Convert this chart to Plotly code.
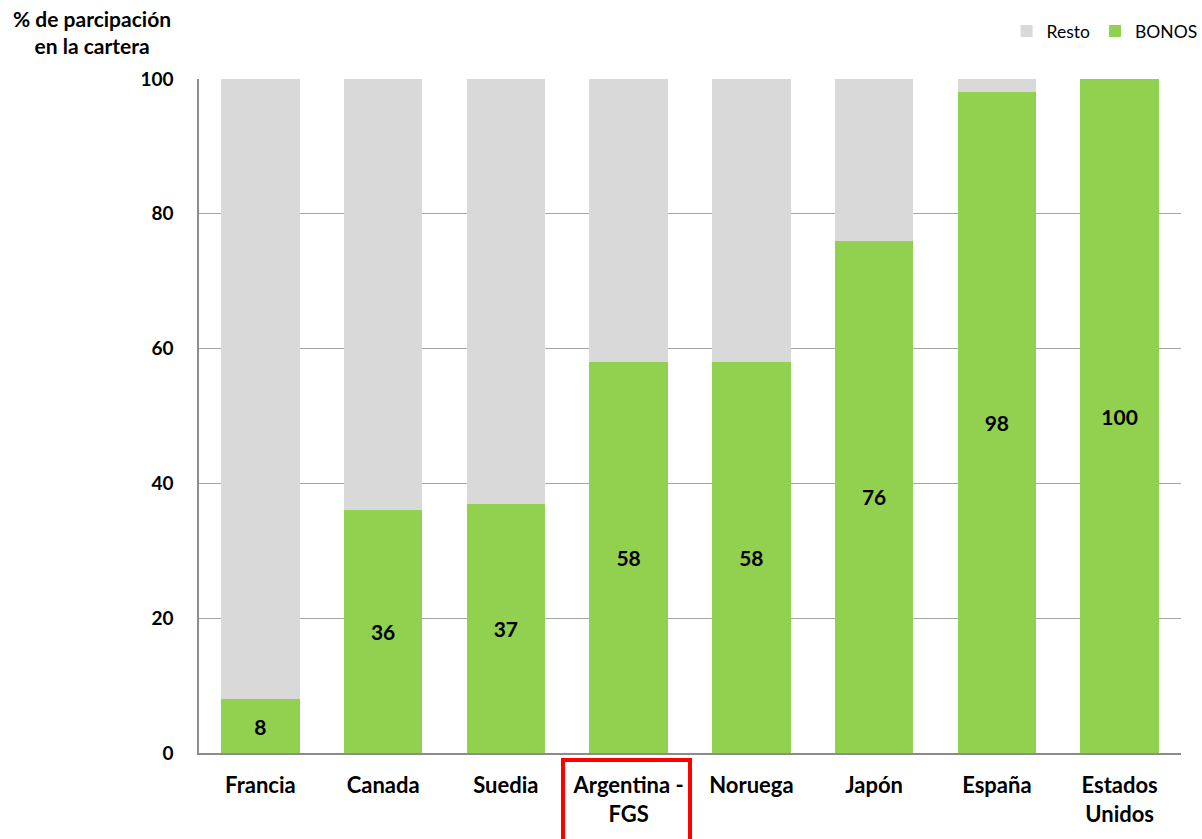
import plotly.graph_objects as go

categories = ["Francia", "Canada", "Suedia", "Argentina -<br>FGS", "Noruega", "Japón", "España", "Estados<br>Unidos"]
bonos = [8, 36, 37, 58, 58, 76, 98, 100]
resto = [100 - b for b in bonos]
y_ticks = [0, 20, 40, 60, 80, 100]

FONT = "Lato, Carlito, Calibri, sans-serif"
GREEN = "#92D050"
GRAY = "#D9D9D9"

fig = go.Figure()
fig.add_trace(go.Bar(
    x=categories, y=bonos, name="BONOS", marker=dict(color=GREEN, line=dict(width=0)),
    text=[str(v) for v in bonos], textposition="inside", insidetextanchor="middle",
    textangle=0, textfont=dict(family=FONT, size=21, color="black", weight="bold"),
    constraintext="none", cliponaxis=False,
))
fig.add_trace(go.Bar(
    x=categories, y=resto, name="Resto", marker=dict(color=GRAY, line=dict(width=0)),
))

fig.update_layout(
    width=1202, height=839,
    barmode="stack", bargap=0.36,
    plot_bgcolor="white", paper_bgcolor="white",
    margin=dict(l=199, r=21, t=79, b=86, autoexpand=False),
    font=dict(family=FONT, color="black"),
    showlegend=True,
    legend=dict(orientation="h", traceorder="reversed", x=1.022, xanchor="right",
                y=1.071, yanchor="middle", font=dict(family=FONT, size=17.5),
                itemwidth=30, bgcolor="rgba(0,0,0,0)"),
    xaxis=dict(showline=True, linecolor="#8C8C8C", linewidth=1.5,
               tickfont=dict(family=FONT, size=22, weight="bold"),
               ticklabelstandoff=12, showgrid=False),
    yaxis=dict(range=[0, 100], tickvals=y_ticks, showline=True, linecolor="#8C8C8C",
               linewidth=1.5, gridcolor="#A6A6A6", gridwidth=1,
               tickfont=dict(family=FONT, size=19, weight="bold"),
               ticklabelstandoff=20, zeroline=False),
    annotations=[dict(text="% de parcipación<br>en la cartera", xref="paper", yref="paper",
                      x=(92 - 199) / 982, y=(753 - 32) / 674, xanchor="center", yanchor="middle",
                      showarrow=False, align="center",
                      font=dict(family=FONT, size=21, weight="bold"))],
    shapes=[dict(type="rect", xref="paper", yref="paper",
                 x0=(563 - 199) / 982, x1=(690 - 199) / 982,
                 y0=(753 - 760) / 674, y1=(753 - 842) / 674,
                 line=dict(color="#FF0000", width=4))],
)

fig.write_html("out.html")
